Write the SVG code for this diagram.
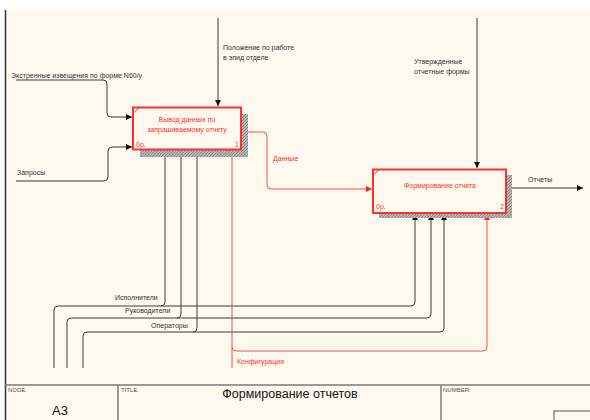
<svg xmlns="http://www.w3.org/2000/svg" width="590" height="420" viewBox="0 0 590 420">
  <style>
    .lbl { font-family: "Liberation Sans", Arial, sans-serif; font-size: 7px; fill: #333; }
    .red { fill: #ff2f2f; }
    .ln { fill: none; stroke: #3a3a3a; stroke-width: 1; }
    .rln { fill: none; stroke: #ff4a4a; stroke-width: 1; }
    .box { fill: #fdf9ef; stroke: #ff3030; stroke-width: 2; }
    .shadow { fill: url(#hatch); }
    .frame { stroke: #7a7a7a; stroke-width: 1.5; fill: none; }
    .small { font-family: "Liberation Sans", Arial, sans-serif; font-size: 6px; fill: #555; }
  </style>
  <defs>
    <pattern id="hatch" width="3" height="3" patternUnits="userSpaceOnUse">
      <rect width="3" height="3" fill="#b8b8b8"/>
      <path d="M0,3 L3,0" stroke="#777" stroke-width="0.8"/>
    </pattern>
    <marker id="ah" markerWidth="6" markerHeight="6" refX="6" refY="3" orient="auto" markerUnits="userSpaceOnUse">
      <path d="M0,0 L6,3 L0,6 Z" fill="#111"/>
    </marker>
    <marker id="ahr" markerWidth="6" markerHeight="6" refX="6" refY="3" orient="auto" markerUnits="userSpaceOnUse">
      <path d="M0,0 L6,3 L0,6 Z" fill="#ff2020"/>
    </marker>
  </defs>

  <!-- sheet -->
  <rect x="0" y="0" width="590" height="420" fill="#ffffff"/>
  <rect x="6" y="10" width="584" height="410" fill="#fdf9ef"/>
  <line x1="5.5" y1="10" x2="5.5" y2="420" stroke="#333" stroke-width="1.5"/>

  <!-- connectors -->
  <g id="connectors">
    <path class="ln" d="M218,18 V106" marker-end="url(#ah)"/>
    <path class="ln" d="M16,80 H103 Q107,80 107,84 V113 Q107,117 111,117 H132" marker-end="url(#ah)"/>
    <path class="ln" d="M16,181 H104 Q108,181 108,177 V151 Q108,147 112,147 H132" marker-end="url(#ah)"/>
    <path class="rln" d="M242,132 H263 Q267,132 267,136 V185 Q267,189 271,189 H372" marker-end="url(#ahr)"/>
    <path class="ln" d="M477,18 V168" marker-end="url(#ah)"/>
    <path class="ln" d="M507,188 H583" marker-end="url(#ah)"/>

    <path class="ln" d="M54,368 V310 Q54,306 58,306 H411 Q415,306 415,302 V214" marker-end="url(#ah)"/>
    <path class="ln" d="M161,306 Q165,306 165,302 V151" marker-end="url(#ah)"/>
    <path class="ln" d="M67,368 V322 Q67,318 71,318 H427 Q431,318 431,314 V214" marker-end="url(#ah)"/>
    <path class="ln" d="M177,318 Q181,318 181,314 V151" marker-end="url(#ah)"/>
    <path class="ln" d="M83,368 V336 Q83,332 87,332 H440 Q444,332 444,328 V214" marker-end="url(#ah)"/>
    <path class="ln" d="M193,332 Q197,332 197,328 V151" marker-end="url(#ah)"/>

    <path class="rln" d="M232,368 V151" marker-end="url(#ahr)"/>
    <path class="rln" d="M232,347 Q232,351 236,351 H483 Q487,351 487,347 V214" marker-end="url(#ahr)"/>
  </g>

  <!-- connector labels -->
  <g id="labels">
    <text class="lbl" x="223" y="50">Положение по работе</text>
    <text class="lbl" x="223" y="60">в эпид отделе</text>
    <text class="lbl" x="11" y="78">Экстренные извещения по форме N60/у</text>
    <text class="lbl" x="17" y="175">Запросы</text>
    <text class="lbl red" x="273" y="161">Данные</text>
    <text class="lbl" x="414" y="64">Утвержденные</text>
    <text class="lbl" x="414" y="74">отчетные формы</text>
    <text class="lbl" x="528" y="182">Отчеты</text>
    <text class="lbl" x="115" y="300">Исполнители</text>
    <text class="lbl" x="125" y="313">Руководители</text>
    <text class="lbl" x="151" y="328">Операторы</text>
    <text class="lbl red" x="237" y="364">Конфигурация</text>
  </g>

  <!-- activity 1 -->
  <g id="node1">
    <rect class="shadow" x="140" y="114" width="108" height="43"/>
    <rect class="box" x="133" y="107.5" width="108" height="42"/>
    <line x1="133" y1="113.5" x2="139" y2="107.5" stroke="#ff3030" stroke-width="1"/>
    <text class="lbl red" x="187" y="121.5" text-anchor="middle">Вывод данных по</text>
    <text class="lbl red" x="187" y="131.5" text-anchor="middle">запрашиваемому отчету</text>
    <text class="lbl red" x="136" y="147">0р.</text>
    <text class="lbl red" x="239" y="147" text-anchor="end">1</text>
  </g>

  <!-- activity 2 -->
  <g id="node2">
    <rect class="shadow" x="379" y="175" width="133" height="43"/>
    <rect class="box" x="373" y="169.5" width="133" height="43.5"/>
    <line x1="373" y1="175.5" x2="379" y2="169.5" stroke="#ff3030" stroke-width="1"/>
    <text class="lbl red" x="440" y="187.5" text-anchor="middle">Формирование отчета</text>
    <text class="lbl red" x="376" y="209">0р.</text>
    <text class="lbl red" x="504" y="209" text-anchor="end">2</text>
  </g>

  <!-- title block -->
  <g id="titleblock">
    <line class="frame" x1="5" y1="385" x2="590" y2="385"/>
    <line class="frame" x1="118" y1="385" x2="118" y2="420"/>
    <line class="frame" x1="441" y1="385" x2="441" y2="420"/>
    <rect x="554" y="411" width="40" height="12" fill="none" stroke="#555" stroke-width="1"/>
    <text class="small" x="8" y="392">NODE:</text>
    <text x="60" y="415" text-anchor="middle" font-family="Liberation Sans, Arial, sans-serif" font-size="13" fill="#111">A3</text>
    <text class="small" x="121" y="392">TITLE:</text>
    <text x="290" y="398" text-anchor="middle" font-family="Liberation Sans, Arial, sans-serif" font-size="12.5" fill="#111">Формирование отчетов</text>
    <text class="small" x="443" y="392">NUMBER:</text>
  </g>
</svg>
